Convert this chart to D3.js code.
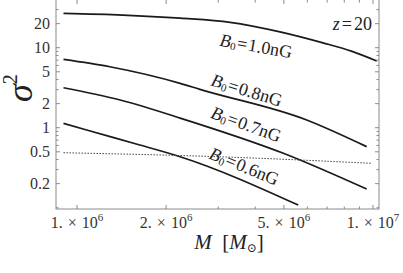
<!DOCTYPE html>
<html><head><meta charset="utf-8">
<script src="https://cdn.jsdelivr.net/npm/d3@7"></script>
<style>
html,body{margin:0;padding:0;background:#fff;}
svg{display:block;}
text{font-family:"Liberation Serif","DejaVu Serif",serif;}
</style></head>
<body>
<svg id="chart" width="403" height="273"></svg>
<script>
// ---- data ----
const massB10 = [0.9e6, 1.43e6, 2.23e6, 3.29e6, 4.85e6, 6.78e6, 8.5e6, 1.03e7];
const sigB10  = [26.9, 25.6, 23.4, 20.8, 15.8, 11.5, 9.0, 6.82];
const massB08 = [0.9e6, 1.29e6, 2.23e6, 2.6e6, 5.97e6, 9.52e6];
const sigB08  = [7.16, 5.79, 3.59, 3.02, 1.25, 0.58];
const massB07 = [0.9e6, 1.4e6, 2.23e6, 4.98e6, 9.52e6];
const sigB07  = [3.16, 2.22, 1.32, 0.479, 0.171];
const massB06 = [0.9e6, 1.078e6, 1.63e6, 2.23e6, 5.59e6];
const sigB06  = [1.135, 0.936, 0.608, 0.434, 0.108];
const massThr = [0.9e6, 3.0e6, 9.9e6];
const sigThr  = [0.487, 0.434, 0.359];

const curveLabels = ["1.0", "0.8", "0.7", "0.6"];
const xTickMajor = [1e6, 2e6, 5e6, 1e7];
const xTickLabelMant = ["1.", "2.", "5.", "1."];
const xTickLabelExp = ["6", "6", "6", "7"];
const xTickMinor = [3e6, 4e6, 6e6, 7e6, 8e6, 9e6];
const yTickMajor = [0.2, 0.5, 1, 2, 5, 10, 20];
const yTickLabels = ["0.2", "0.5", "1", "2", "5", "10", "20"];
const yTickMinor = [0.1, 0.3, 0.4, 0.6, 0.7, 0.8, 0.9, 3, 4, 6, 7, 8, 9, 30];
const zLabel = "20";

// ---- layout ----
const L = 56, R = 379, T = -1, B = 209;
const svg = d3.select("#chart");
const x = d3.scaleLog().domain([8.49e5, 1.048e7]).range([L, R]);
const y = d3.scaleLog().domain([0.0964, 39.5]).range([B, 0]);

const frameCol = "#8a8a8a";
const g = svg.append("g");

// curves
const line = d3.line().x(d => x(d[0])).y(d => y(d[1])).curve(d3.curveMonotoneX);
const series = [[massB10, sigB10], [massB08, sigB08], [massB07, sigB07], [massB06, sigB06]];
series.forEach(([ms, ss]) => {
  g.append("path").attr("d", line(ms.map((m, i) => [m, ss[i]])))
    .attr("fill", "none").attr("stroke", "#1a1a1a").attr("stroke-width", 1.7);
});
g.append("path").attr("d", line(massThr.map((m, i) => [m, sigThr[i]])))
  .attr("fill", "none").attr("stroke", "#444").attr("stroke-width", 1)
  .attr("stroke-dasharray", "1.5,1.5");

// frame
g.append("rect").attr("x", L).attr("y", T).attr("width", R - L).attr("height", B - T)
  .attr("fill", "none").attr("stroke", frameCol).attr("stroke-width", 1);

// ticks
function tick(x1, y1, x2, y2) {
  g.append("line").attr("x1", x1).attr("y1", y1).attr("x2", x2).attr("y2", y2)
    .attr("stroke", frameCol).attr("stroke-width", 1);
}
xTickMajor.forEach(v => { tick(x(v), B, x(v), B - 4); tick(x(v), 0, x(v), 4); });
xTickMinor.forEach(v => { tick(x(v), B, x(v), B - 2.5); tick(x(v), 0, x(v), 2.5); });
yTickMajor.forEach(v => { tick(L, y(v), L + 4, y(v)); tick(R, y(v), R - 4, y(v)); });
yTickMinor.filter(v => y(v) > 0 && y(v) < B).forEach(v => { tick(L, y(v), L + 2.5, y(v)); tick(R, y(v), R - 2.5, y(v)); });

// tick labels
const tcol = "#333";
xTickMajor.forEach((v, i) => {
  const t = g.append("text").attr("x", x(v)).attr("y", 228).attr("text-anchor", "middle")
    .attr("font-size", 16).attr("fill", tcol);
  t.append("tspan").text(xTickLabelMant[i]);
  t.append("tspan").text("\u00d7").attr("dx", 5);
  t.append("tspan").text("10").attr("dx", 5);
  t.append("tspan").text(xTickLabelExp[i]).attr("font-size", 11).attr("dy", -7);
});
yTickMajor.forEach((v, i) => {
  g.append("text").attr("x", 50).attr("y", y(v) + 5).attr("text-anchor", "end")
    .attr("font-size", 16).attr("fill", tcol).text(yTickLabels[i]);
});

// axis titles
const xt = g.append("text").attr("x", 229).attr("y", 249).attr("text-anchor", "middle")
  .attr("font-size", 21).attr("fill", "#222").attr("xml:space", "preserve");
xt.append("tspan").text("M").attr("font-style", "italic");
xt.append("tspan").text("  [");
xt.append("tspan").text("M").attr("font-style", "italic");
xt.append("tspan").text("\u2299").attr("font-size", 12).attr("dy", 3);
xt.append("tspan").text("]").attr("dy", -3);

const yt = g.append("text").attr("transform", "translate(32,88) rotate(-90)")
  .attr("text-anchor", "middle").attr("font-size", 36).attr("fill", "#222");
yt.append("tspan").text("\u03c3").attr("font-style", "italic");
yt.append("tspan").text("2").attr("font-size", 20).attr("dy", -15);

// z label
const zt = g.append("text").attr("x", 372).attr("y", 30).attr("text-anchor", "end")
  .attr("font-size", 18).attr("fill", "#222");
zt.append("tspan").text("z").attr("font-style", "italic");
zt.append("tspan").text("=").attr("dx", 2);
zt.append("tspan").text(zLabel).attr("dx", 2);

// curve labels
const labPos = [[255, 52, 10], [245, 96, 17], [244, 130, 20], [242, 172, 22]];
curveLabels.forEach((s, i) => {
  const [lx, ly, rot] = labPos[i];
  const t = g.append("text").attr("transform", `translate(${lx},${ly}) rotate(${rot})`)
    .attr("text-anchor", "middle").attr("font-size", 18).attr("fill", "#222");
  t.append("tspan").text("B").attr("font-style", "italic");
  t.append("tspan").text("0").attr("font-size", 11).attr("dy", 2);
  t.append("tspan").text("=").attr("dy", -2).attr("dx", 1);
  t.append("tspan").text(s + "nG").attr("dx", 1);
});
</script>
</body></html>
